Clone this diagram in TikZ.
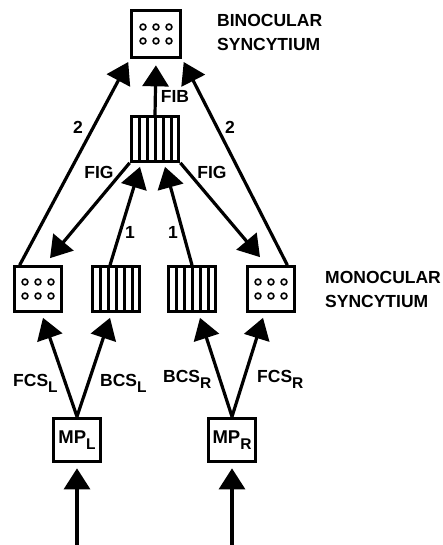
\documentclass[tikz,border=0pt]{standalone}
\usepackage{fontspec}
\setmainfont{Liberation Sans}
\usetikzlibrary{arrows.meta,positioning}
\newcommand\lowsub[1]{\raisebox{-6pt}{\fontsize{15.5}{15}\selectfont #1}}

\begin{document}
\begin{tikzpicture}[x=1pt, y=1pt,
  cell/.style={rectangle, draw, line width=3.2pt, inner sep=0pt,
               minimum width=47.5pt, minimum height=44.5pt},
  dotbox/.style={cell, path picture={
      \foreach \dx in {-13,0,13}
        \foreach \dy in {7,-7}
          \draw[line width=1.6pt] ([shift={(\dx pt,\dy pt)}]path picture bounding box.center) circle (2.9pt);}},
  barbox/.style={cell, path picture={
      \foreach \dx in {-16,-8,0,8,16}
        \draw[line width=3pt] ([xshift=\dx pt]path picture bounding box.north)
          -- ([xshift=\dx pt]path picture bounding box.south);}},
  mpbox/.style={cell, minimum width=46.5pt, minimum height=43.5pt,
                font=\bfseries\fontsize{18.5}{20}\selectfont},
  lbl/.style={font=\bfseries\fontsize{17.5}{24}\selectfont, inner sep=0pt},
  arrow/.style={-{Triangle[length=21pt, width=26pt]}, line width=3.2pt}
]
  \useasboundingbox (0,0) rectangle (442,545);

  % binocular level
  \node[dotbox, minimum width=49.5pt, minimum height=47.5pt] (bin) at (156,511) {};
  \node[barbox] (fig) at (155,406) {};
  \node[lbl, anchor=west, align=left] (binlbl) at (217,513) {BINOCULAR\\SYNCYTIUM};

  % monocular level
  \node[dotbox] (m1) at (38,256) {};
  \node[barbox] (m2) at (116,256) {};
  \node[barbox] (m3) at (192,256) {};
  \node[dotbox] (m4) at (271,256) {};
  \node[lbl, anchor=west, align=left] (monlbl) at (325,256) {MONOCULAR\\SYNCYTIUM};

  % inputs
  \node[mpbox] (mpl) at (77,105) {MP\lowsub{L}};
  \node[mpbox] (mpr) at (232,105) {MP\lowsub{R}};
  \coordinate (inl) at (77,0);
  \coordinate (inr) at (232,0);

  \draw[arrow, shorten >=5pt] (inl) -- (mpl.south);
  \draw[arrow, shorten >=5pt] (inr) -- (mpr.south);

  \draw[arrow] (mpl.north) -- ([shift={(5pt,-5pt)}]m1.south);
  \draw[arrow] (mpl.north) -- ([shift={(-6pt,-5pt)}]m2.south);
  \draw[arrow] (mpr.north) -- ([shift={(8pt,-5pt)}]m3.south);
  \draw[arrow] (mpr.north) -- ([shift={(-8pt,-5pt)}]m4.south);

  \draw[arrow] ([xshift=-6pt]m2.north) -- ([shift={(-15pt,-4pt)}]fig.south);
  \draw[arrow] (m3.north) -- ([shift={(10pt,-4pt)}]fig.south);
  \draw[arrow] (fig.south west) -- ([shift={(12pt,7pt)}]m1.north);
  \draw[arrow] (fig.south east) -- ([shift={(-11pt,8pt)}]m4.north);

  \draw[arrow, shorten >=3pt] ([xshift=7pt]m1.north west) -- (bin.south west);
  \draw[arrow, shorten >=3pt] ([xshift=-9pt]m4.north east) -- (bin.south east);
  \draw[arrow, shorten >=6pt] (fig.north) -- (bin.south);

  % connector labels
  \node[lbl] (fib) at (175,449) {FIB};
  \node[lbl] (twol) at (78,418) {2};
  \node[lbl] (twor) at (230,418) {2};
  \node[lbl] (figl) at (99,373) {FIG};
  \node[lbl] (figr) at (212,373) {FIG};
  \node[lbl] (onel) at (130,313) {1};
  \node[lbl] (oner) at (173,313) {1};
  \node[lbl, anchor=base west] (fcsl) at (13,158) {FCS\lowsub{L}};
  \node[lbl, anchor=base west] (bcsl) at (100,158) {BCS\lowsub{L}};
  \node[lbl, anchor=base west] (bcsr) at (163,162) {BCS\lowsub{R}};
  \node[lbl, anchor=base west] (fcsr) at (257,162) {FCS\lowsub{R}};
\end{tikzpicture}
\end{document}
